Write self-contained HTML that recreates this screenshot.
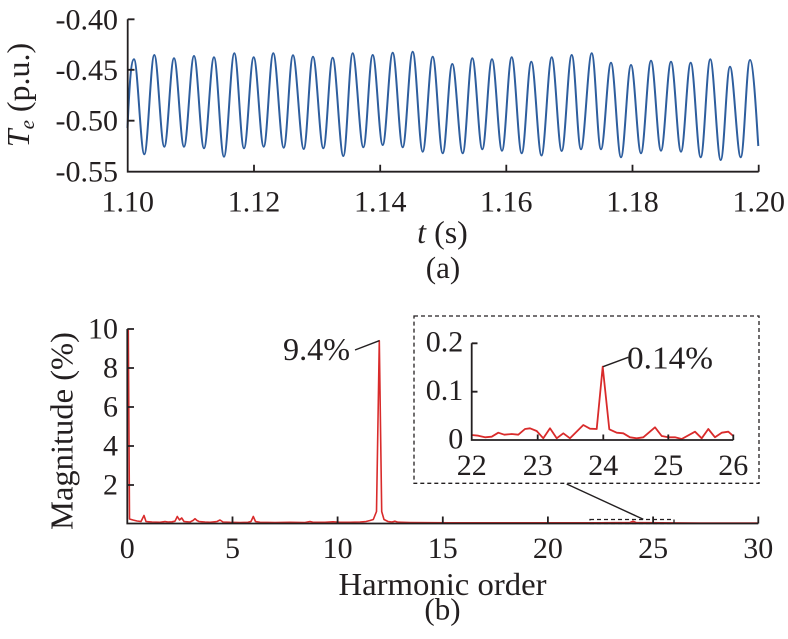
<!DOCTYPE html>
<html><head><meta charset="utf-8"><style>
html,body{margin:0;padding:0;background:#fff;}
svg{display:block;font-family:"Liberation Serif","Times New Roman",Times,"Noto Serif CJK SC","DejaVu Serif",serif;}
svg text{font-family:"Liberation Serif","Times New Roman",Times,"Noto Serif CJK SC","DejaVu Serif",serif;fill:#231f20;}
</style></head><body>
<svg width="788" height="639" viewBox="0 0 788 639" xmlns="http://www.w3.org/2000/svg">
<!-- TOP PLOT -->
<path d="M127.5,128 C128.8,100 130.4,59.3 134,59.3
S140.7,154.3 144.3,154.3 S150.7,55 154.3,55 S160.7,146.7 164.3,146.7 S170.4,58.3 174,58.3
S180.4,146.7 184,146.7 S190.4,56 194,56 S200.4,148.3 204,148.3 S210.4,57.3 214,57.3
S220.4,156.7 224,156.7 S230.7,53.3 234.3,53.3 S240.4,148.3 244,148.3 S250.1,57.3 253.7,57.3
S260.1,146.7 263.7,146.7 S269.7,53.3 273.3,53.3 S280.1,147.7 283.7,147.7 S289.4,55.3 293,55.3
S300.1,149 303.7,149 S309.4,56.7 313,56.7 S319.7,148.3 323.3,148.3 S329.1,57.8 332.7,57.8
S339.7,156 343.3,156 S349.1,53.3 352.7,53.3 S359.7,147.3 363.3,147.3 S369.1,55 372.7,55
S379.1,145 382.7,145 S389.1,52.7 392.7,52.7 S399.1,147.3 402.7,147.3 S409.1,51.7 412.7,51.7
S419.1,151.7 422.7,151.7 S429.1,56.7 432.7,56.7 S439.1,153.3 442.7,153.3 S448.7,64 452.3,64
S459.1,153.3 462.7,153.3 S468.7,58.3 472.3,58.3 S478.7,149.3 482.3,149.3 S488.4,59.3 492,59.3
S498.4,150.7 502,150.7 S508.1,57.3 511.7,57.3 S518.1,153.3 521.7,153.3 S527.7,61.7 531.3,61.7
S537.9,155.5 541.5,155.5 S548.1,57.3 551.7,57.3 S558.1,151 561.7,151 S568.1,55 571.7,55
S577.4,149.3 581,149.3 S588.1,53.3 591.7,53.3 S597.4,149.3 601,149.3 S607.4,62.7 611,62.7
S617.4,157.3 621,157.3 S627.4,65 631,65 S637.4,153.3 641,153.3 S647.4,60.7 651,60.7
S657.4,150.7 661,150.7 S667.4,61.7 671,61.7 S677.4,151.7 681,151.7 S687.1,62.7 690.7,62.7
S697.1,157.3 700.7,157.3 S706.7,59.3 710.3,59.3 S717.1,160 720.7,160 S726.4,66.7 730,66.7
S737.1,157.3 740.7,157.3 S746.4,60 750,60 C753.6,60 757,128 758.3,146"
 fill="none" stroke="#2e5e9e" stroke-width="2"/>
<g stroke="#231f20" stroke-width="1.8" fill="none">
<path d="M127.7,19.3 V171.7 H758.7"/>
<path d="M127.7,19.3 H134.5 M127.7,69.8 H134.5 M127.7,120.7 H134.5"/>
<path d="M254,171.7 V164.7 M380.2,171.7 V164.7 M506.3,171.7 V164.7 M632.5,171.7 V164.7 M758.7,171.7 V164.7"/>
</g>
<g font-size="30" text-anchor="end">
<text x="118" y="29.5">-0.40</text>
<text x="118" y="80">-0.45</text>
<text x="118" y="130.7">-0.50</text>
<text x="118" y="181.7">-0.55</text>
</g>
<g font-size="30" text-anchor="middle">
<text x="127.7" y="211.5">1.10</text>
<text x="254" y="211.5">1.12</text>
<text x="380.2" y="211.5">1.14</text>
<text x="506.3" y="211.5">1.16</text>
<text x="632.5" y="211.5">1.18</text>
<text x="758.7" y="211.5">1.20</text>
</g>
<text x="442.5" y="243" font-size="32" text-anchor="middle"><tspan font-style="italic">t</tspan> (s)</text>
<text x="443" y="278" font-size="31" text-anchor="middle">(a)</text>
<text transform="translate(29,95) rotate(-90)" font-size="32" text-anchor="middle"><tspan font-style="italic">T</tspan><tspan font-style="italic" font-size="21" dy="5">e</tspan><tspan dy="-5"> (p.u.)</tspan></text>

<!-- BOTTOM PLOT -->
<path d="M128.3,329 L129.5,519 L133,520 L137,521 L141,521.5 L144,515.5 L146,521.5 L152,522 L160,522.3 L165,521.5 L168,522 L172,521.8 L175,521.2 L177.3,516.5 L179.5,520 L181.7,518 L184,521.5 L190,522 L193,520.5 L195,518.7 L197,520.5 L199,521.5 L205,522 L210,522.3 L217,521.5 L220,520 L223,522 L230,522.3 L240,522.5 L248,522.3 L251,521.5 L253.3,516.5 L255.5,521.5 L260,522.3 L275,522.5 L290,522.3 L305,522.5 L310,521.5 L313,522.3 L325,522.3 L333,521.8 L340,522.3 L350,522.3 L360,522 L366,521.5 L370,520.5 L373.3,519.5 L376.5,511.5 L379.3,340.7 L381.7,511.5 L384,519.5 L388,521.5 L392,522 L395,521.2 L398,522.2 L410,522.5 L450,522.8 L500,522.8 L550,522.8 L600,522.8 L630,522.5 L633,521.2 L636,522.5 L660,522.8 L700,523 L758,523"
 fill="none" stroke="#d92b2b" stroke-width="1.6" stroke-linejoin="round"/>
<g stroke="#231f20" stroke-width="1.8" fill="none">
<path d="M127.3,329 V523.5 H758.3"/>
<path d="M127.3,329 H134 M127.3,368 H134 M127.3,407 H134 M127.3,446 H134 M127.3,485 H134"/>
<path d="M232.5,523.5 V516.5 M337.6,523.5 V516.5 M442.8,523.5 V516.5 M547.9,523.5 V516.5 M653.1,523.5 V516.5 M758.3,523.5 V516.5"/>
</g>
<g font-size="30" text-anchor="end">
<text x="118" y="338.5">10</text>
<text x="118" y="377.7">8</text>
<text x="118" y="416.7">6</text>
<text x="118" y="455.7">4</text>
<text x="118" y="494.7">2</text>
</g>
<g font-size="30" text-anchor="middle">
<text x="127.3" y="558">0</text>
<text x="232.5" y="558">5</text>
<text x="337.6" y="558">10</text>
<text x="442.8" y="558">15</text>
<text x="547.9" y="558">20</text>
<text x="653.1" y="558">25</text>
<text x="758.3" y="558">30</text>
</g>
<text x="338.5" y="595" font-size="32" textLength="208" lengthAdjust="spacingAndGlyphs">Harmonic order</text>
<text x="442.5" y="619.5" font-size="31" text-anchor="middle">(b)</text>
<text transform="translate(72.7,530) rotate(-90)" font-size="32" textLength="198" lengthAdjust="spacingAndGlyphs">Magnitude (%)</text>
<path d="M355,350 L379.3,340.7" stroke="#231f20" stroke-width="1.4" fill="none"/>
<text x="283" y="360" font-size="32" textLength="67" lengthAdjust="spacingAndGlyphs">9.4%</text>

<!-- zoom indicator -->
<rect x="590" y="519.5" width="84" height="4" fill="none" stroke="#231f20" stroke-width="1.3" stroke-dasharray="4,3"/>
<path d="M566.7,484 L643.3,519.3" stroke="#231f20" stroke-width="1.4" fill="none"/>

<!-- INSET -->
<rect x="414" y="316" width="345" height="167.3" fill="none" stroke="#231f20" stroke-width="1.3" stroke-dasharray="4,3"/>
<path d="M471.7,435 L478.3,435.7 L485,437.3 L491.7,436.7 L498.3,432.7 L504.3,434.7 L511.7,434 L518.3,434.7 L525,429 L530,428.3 L536.7,431 L543.3,438.3 L550,428.3 L556.7,438.3 L563.3,433.3 L570,438.3 L583.3,425 L590,428.7 L596.7,429 L602.7,366.7 L609.3,429.3 L616.7,432.7 L623.3,433.3 L630,437.3 L636.7,438.3 L643.3,437.3 L655,427.3 L661.7,436 L668.3,437.3 L675,437.3 L681.7,439 L695,431.7 L701.7,438.3 L708.3,429 L715,437.3 L721.7,432.7 L728.3,431.7 L733.3,436"
 fill="none" stroke="#d92b2b" stroke-width="1.8" stroke-linejoin="round"/>
<g stroke="#231f20" stroke-width="1.8" fill="none">
<path d="M471.7,343.3 V440 H733.3"/>
<path d="M471.7,343.3 H477.5 M471.7,391.7 H477.5"/>
<path d="M537.7,440 V434.5 M603.3,440 V434.5 M668.3,440 V434.5 M733.3,440 V434.5"/>
</g>
<path d="M603,366.7 L628.3,357.3" stroke="#231f20" stroke-width="1.4" fill="none"/>
<g font-size="30" text-anchor="end">
<text x="463.3" y="351.7">0.2</text>
<text x="463.3" y="400">0.1</text>
<text x="463.3" y="448.3">0</text>
</g>
<g font-size="30" text-anchor="middle">
<text x="471.7" y="475">22</text>
<text x="537.7" y="475">23</text>
<text x="603.3" y="475">24</text>
<text x="668.3" y="475">25</text>
<text x="733.3" y="475">26</text>
</g>
<text x="627" y="368.3" font-size="32" textLength="86" lengthAdjust="spacingAndGlyphs">0.14%</text>
</svg>
</body></html>
